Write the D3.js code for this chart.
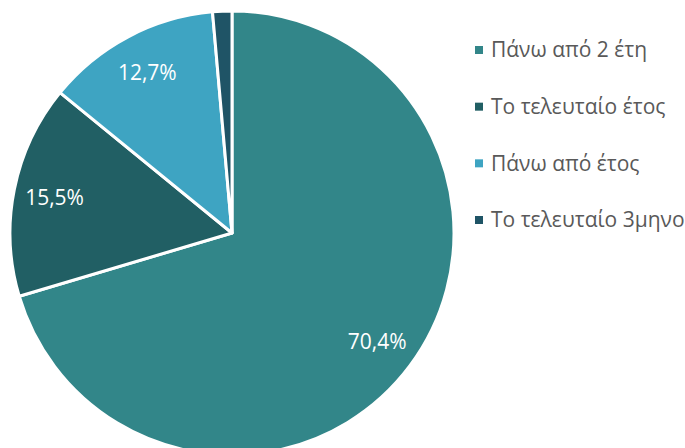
<!DOCTYPE html>
<html><head><meta charset="utf-8">
<script src="https://cdn.jsdelivr.net/npm/d3@7"></script>
<style>body{margin:0;background:#fff;}svg{display:block;}</style>
</head><body>
<script>
const categories = ["Πάνω από 2 έτη", "Το τελευταίο έτος", "Πάνω από έτος", "Το τελευταίο 3μηνο"];
const values = [70.4, 15.5, 12.7, 1.4];
const labels = ["70,4%", "15,5%", "12,7%", ""];
const colors = ["#328689", "#215F64", "#3EA4C2", "#1F5466"];

const W = 685, H = 448;
const svg = d3.select("body").append("svg").attr("width", W).attr("height", H);
const cx = 232, cy = 233, R = 222;
const g = svg.append("g").attr("transform", `translate(${cx},${cy})`);
const pie = d3.pie().sort(null).value(d => d)(values);
const arc = d3.arc().innerRadius(0).outerRadius(R);
const labelArc = d3.arc().innerRadius(181).outerRadius(181);
g.selectAll("path").data(pie).join("path")
  .attr("d", arc).attr("fill", (d, i) => colors[i])
  .attr("stroke", "#fff").attr("stroke-width", 3).attr("stroke-linejoin", "round");
g.selectAll("text").data(pie).join("text")
  .attr("transform", d => `translate(${labelArc.centroid(d)})`)
  .attr("text-anchor", "middle").attr("dy", "0.35em")
  .attr("fill", "#fff").attr("font-family", "'Open Sans', sans-serif").attr("font-size", 21)
  .text((d, i) => labels[i]);

const leg = svg.append("g");
const ly = d3.scalePoint().domain(categories).range([50, 220]);
const items = leg.selectAll("g").data(categories).join("g")
  .attr("transform", d => `translate(475,${ly(d)})`);
items.append("rect").attr("x", 0).attr("y", -4).attr("width", 8).attr("height", 8)
  .attr("fill", (d, i) => colors[i]);
items.append("text").attr("x", 16).attr("dy", "0.35em")
  .attr("fill", "#595959").attr("font-family", "'Open Sans', sans-serif").attr("font-size", 21)
  .text(d => d);
</script>
</body></html>
